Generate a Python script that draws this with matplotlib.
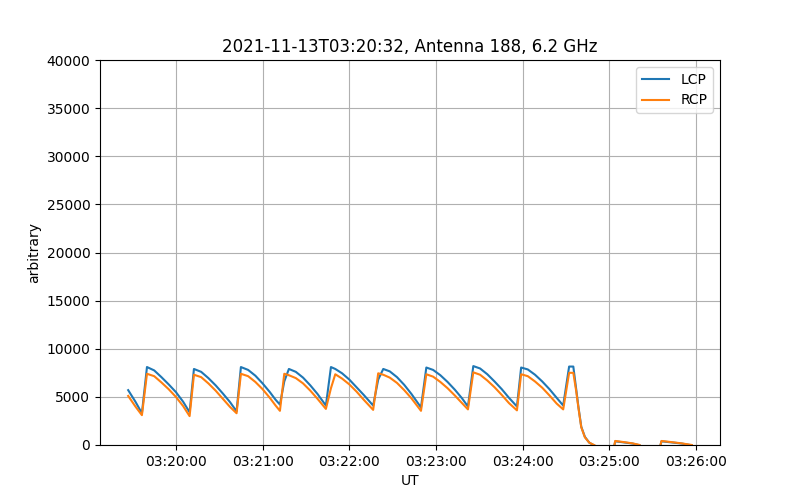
import matplotlib
matplotlib.use("Agg")
import matplotlib.pyplot as plt
import matplotlib.dates as mdates
import pandas as pd

# seconds after 03:19:00 UT
t_sec = [27, 32, 36.5,
         40, 45, 50, 55, 60, 65, 69.5,
         72.5, 77.5, 82.5, 87.5, 92.5, 97.5, 102,
         105, 110, 115, 120, 125, 129, 132, 135, 138.2,
         143, 148, 153, 158, 163.8, 167.3, 170.3,
         175, 180, 185, 190, 196.5, 200, 203.5,
         208, 213, 218, 223, 229.6, 233.3,
         238, 243, 248, 253, 258, 262.1, 265.8,
         270.5, 275.5, 280.5, 285.5, 290.5, 296, 298.9,
         303.5, 308.5, 313.5, 318.5, 323.5, 328, 332.1, 335,
         337, 338.5, 340.5, 343, 346, 350, 354, 360,
         364, 370, 376, 381, 385, 392,
         396, 403, 410, 417]

lcp = [5700, 4500, 3300,
       8100, 7750, 7050, 6300, 5500, 4500, 3400,
       7900, 7600, 6950, 6200, 5350, 4450, 3500,
       8100, 7800, 7200, 6400, 5500, 4700, 4200, 6600, 7900,
       7600, 7000, 6200, 5300, 4100, 8100, 7900,
       7450, 6800, 6000, 5200, 4100, 6800, 7900,
       7650, 7050, 6250, 5300, 3900, 8050,
       7800, 7250, 6550, 5750, 4850, 4000, 8200,
       7950, 7350, 6600, 5800, 4900, 4000, 8050,
       7850, 7300, 6600, 5800, 4900, 4100, 8150, 8150,
       5800, 4000, 1900, 850, 250, -100, -2000, -2500,
       380, 270, 150, -30, -1500, -2000,
       380, 270, 150, -30]

rcp = [5100, 4000, 3100,
       7400, 7150, 6500, 5800, 5000, 4050, 3000,
       7300, 7050, 6400, 5650, 4800, 3950, 3300,
       7400, 7150, 6550, 5800, 4900, 4100, 3550, 7400, 7250,
       6950, 6400, 5650, 4800, 3750, 5900, 7350,
       6900, 6300, 5550, 4700, 3650, 7450, 7300,
       7000, 6450, 5700, 4850, 3550, 7350,
       7100, 6550, 5900, 5150, 4350, 3700, 7550,
       7300, 6700, 6000, 5200, 4350, 3600, 7350,
       7150, 6600, 5950, 5150, 4300, 3700, 7500, 7500,
       5600, 3900, 1850, 800, 250, -50, -2000, -2500,
       420, 300, 170, 0, -1500, -2000,
       420, 300, 170, 0]

t0 = pd.Timestamp("2021-11-13 03:19:00")
times = t0 + pd.to_timedelta(t_sec, unit="s")

fig, ax = plt.subplots(figsize=(8, 5), dpi=100)
ax.plot(times, lcp, label="LCP")
ax.plot(times, rcp, label="RCP")

ax.set_ylim(0, 40000)
ax.xaxis.set_major_locator(mdates.MinuteLocator())
ax.xaxis.set_major_formatter(mdates.DateFormatter("%H:%M:%S"))
ax.grid(True)
ax.legend(loc="upper right")
ax.set_xlabel("UT")
ax.set_ylabel("arbitrary")
ax.set_title("2021-11-13T03:20:32, Antenna 188, 6.2 GHz")

fig.savefig("out.png", dpi=100)
